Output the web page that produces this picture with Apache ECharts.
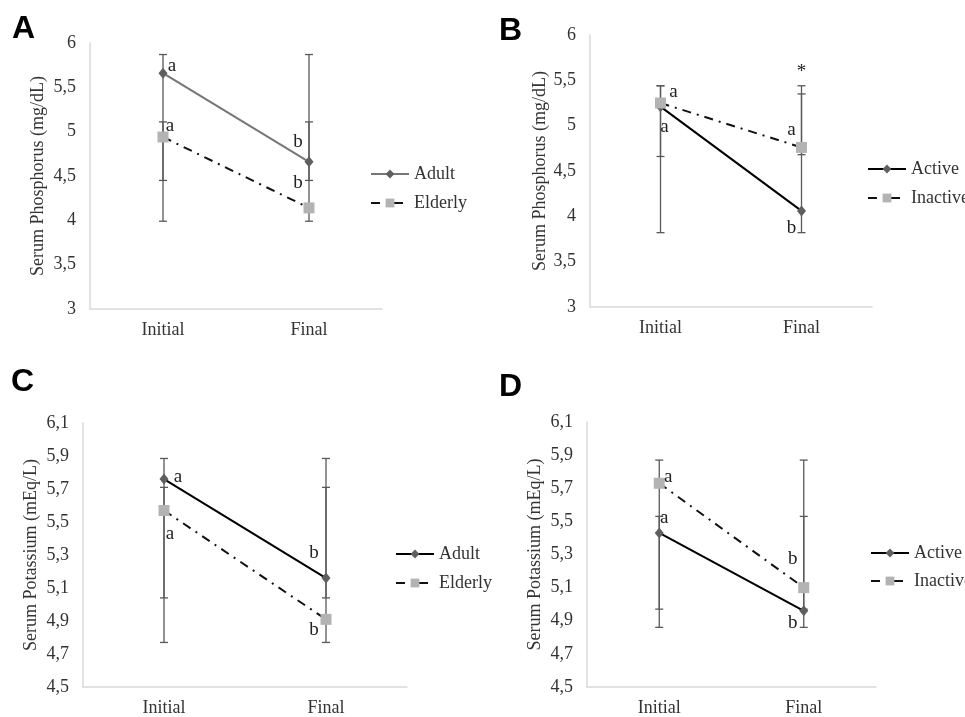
<!DOCTYPE html>
<html>
<head>
<meta charset="utf-8">
<script src="https://cdn.jsdelivr.net/npm/echarts@6/dist/echarts.min.js"></script>
<style>
  html, body { margin: 0; padding: 0; background: #fff; }
  #main { width: 965px; height: 717px; }
</style>
</head>
<body>
<div id="main"></div>
<script>
// categories shared by all four panels
const categories = ['Initial', 'Final'];

// A: serum phosphorus, adult vs elderly
const adultP = [5.66, 4.66];
const elderlyP = [4.94, 4.14];
const adultPLow = [4.45, 4.45];
const adultPHigh = [5.87, 5.87];
const elderlyPLow = [3.99, 3.99];
const elderlyPHigh = [5.11, 5.11];

// B: serum phosphorus, active vs inactive
const activeP = [5.21, 4.06];
const inactiveP = [5.25, 4.76];
const activePLow = [3.82, 3.82];
const activePHigh = [5.44, 5.35];
const inactivePLow = [4.66, 4.68];
const inactivePHigh = [5.44, 5.44];

// C: serum potassium, adult vs elderly
const adultK = [5.76, 5.16];
const elderlyK = [5.57, 4.91];
const adultKLow = [5.04, 5.04];
const adultKHigh = [5.885, 5.885];
const elderlyKLow = [4.77, 4.77];
const elderlyKHigh = [5.71, 5.71];

// D: serum potassium, active vs inactive
const activeK = [5.43, 4.96];
const inactiveK = [5.73, 5.10];
const activeKLow = [4.97, 4.97];
const activeKHigh = [5.87, 5.87];
const inactiveKLow = [4.86, 4.86];
const inactiveKHigh = [5.53, 5.53];

// significance letters
const lettersAdultP = ['a', 'b'];
const lettersElderlyP = ['a', 'b'];
const lettersActiveP = ['a', 'b'];
const lettersInactiveP = ['a', 'a'];
const lettersAdultK = ['a', 'b'];
const lettersElderlyK = ['a', 'b'];
const lettersActiveK = ['a', 'b'];
const lettersInactiveK = ['a', 'b'];
const starsB = ['', '*'];

const serif = 'Liberation Serif';
const txt = '#333';
const axisGray = '#d9d9d9';
const barGray = '#595959';

let myChart = echarts.init(document.getElementById('main'));

function fmtP(v) { return String(Math.round(v * 10) / 10).replace('.', ','); }
function fmtK(v) { return v.toFixed(1).replace('.', ','); }

function xAx(g) {
  return {
    type: 'category', gridIndex: g, data: categories, boundaryGap: true,
    axisLine: { lineStyle: { color: axisGray, width: 1.5 } },
    axisTick: { show: false },
    axisLabel: { color: txt, fontFamily: serif, fontSize: 18, margin: 12 }
  };
}

function yAx(g, name, min, max, interval, fmt, gap) {
  return {
    type: 'value', gridIndex: g, min: min, max: max, interval: interval,
    name: name, nameLocation: 'middle', nameGap: gap,
    nameTextStyle: { color: txt, fontFamily: serif, fontSize: 18 },
    axisLine: { show: true, lineStyle: { color: axisGray, width: 1.5 } },
    axisTick: { show: false },
    splitLine: { show: false },
    axisLabel: { color: txt, fontFamily: serif, fontSize: 18, margin: 14, formatter: fmt }
  };
}

// main mean line with letters next to each point
function lineS(name, g, values, letters, offsets, kind, lineColor) {
  const dark = kind === 'diamond';
  return {
    type: 'line', name: name, xAxisIndex: g, yAxisIndex: g, z: 3,
    symbol: dark ? 'diamond' : 'rect',
    symbolSize: dark ? [9, 11] : 11,
    itemStyle: { color: dark ? '#5f5f5f' : '#b3b3b3' },
    lineStyle: dark
      ? { color: lineColor, width: 2 }
      : { color: '#111', width: 2, type: [9, 6, 2, 6] },
    data: values.map((v, i) => ({
      value: v,
      label: {
        show: true, position: 'inside', formatter: letters[i], offset: offsets[i],
        color: '#222', fontFamily: serif, fontSize: 19
      }
    }))
  };
}

// error bars drawn as custom series
function errS(g, lows, highs, marks) {
  return {
    type: 'custom', xAxisIndex: g, yAxisIndex: g, z: 1, silent: true,
    data: categories.map((c, i) => [i, lows[i], highs[i]]),
    renderItem: function (params, api) {
      const x = api.value(0);
      const lo = api.coord([x, api.value(1)]);
      const hi = api.coord([x, api.value(2)]);
      const st = { stroke: barGray, lineWidth: 1.3 };
      const w = 4;
      const kids = [
        { type: 'line', shape: { x1: lo[0], y1: lo[1], x2: hi[0], y2: hi[1] }, style: st },
        { type: 'line', shape: { x1: lo[0] - w, y1: lo[1], x2: lo[0] + w, y2: lo[1] }, style: st },
        { type: 'line', shape: { x1: hi[0] - w, y1: hi[1], x2: hi[0] + w, y2: hi[1] }, style: st }
      ];
      const m = marks ? marks[params.dataIndex] : '';
      if (m) {
        kids.push({
          type: 'text',
          style: { text: m, x: hi[0], y: hi[1] - 14, align: 'center', verticalAlign: 'middle',
                   fill: '#222', font: '19px ' + serif }
        });
      }
      return { type: 'group', children: kids };
    }
  };
}

function legend(left, top, gap, names) {
  return {
    orient: 'vertical', left: left, top: top, itemGap: gap,
    itemWidth: 38, itemHeight: 11,
    data: names,
    formatter: n => n.split(':')[1],
    textStyle: { color: txt, fontFamily: serif, fontSize: 18 }
  };
}

function letter(t, x, y) {
  return {
    type: 'text', left: x, top: y,
    style: { text: t, fill: '#000', font: 'bold 32px Liberation Sans' }
  };
}

myChart.setOption({
  animation: false,
  backgroundColor: '#fff',
  grid: [
    { left: 90, top: 43, width: 292, height: 266 },
    { left: 590, top: 35, width: 282, height: 272 },
    { left: 83, top: 423, width: 324, height: 265 },
    { left: 587, top: 422, width: 289, height: 265 }
  ],
  xAxis: [xAx(0), xAx(1), xAx(2), xAx(3)],
  yAxis: [
    yAx(0, 'Serum Phosphorus (mg/dL)', 3, 6, 0.5, fmtP, 43),
    yAx(1, 'Serum Phosphorus (mg/dL)', 3, 6, 0.5, fmtP, 38),
    yAx(2, 'Serum Potassium (mEq/L)', 4.5, 6.1, 0.2, fmtK, 43),
    yAx(3, 'Serum Potassium (mEq/L)', 4.5, 6.1, 0.2, fmtK, 43)
  ],
  legend: [
    legend(365, 160, 11, ['A:Adult', 'A:Elderly']),
    legend(862, 155, 11, ['B:Active', 'B:Inactive']),
    legend(390, 540, 11, ['C:Adult', 'C:Elderly']),
    legend(865, 539, 10, ['D:Active', 'D:Inactive'])
  ],
  graphic: [
    letter('A', 12, 13),
    letter('B', 499, 15),
    letter('C', 11, 366),
    letter('D', 499, 371)
  ],
  series: [
    errS(0, adultPLow, adultPHigh),
    errS(0, elderlyPLow, elderlyPHigh),
    lineS('A:Adult', 0, adultP, lettersAdultP, [[9, -7], [-11, -20]], 'diamond', '#767676'),
    lineS('A:Elderly', 0, elderlyP, lettersElderlyP, [[7, -11], [-11, -25]], 'rect'),

    errS(1, activePLow, activePHigh),
    errS(1, inactivePLow, inactivePHigh, starsB),
    lineS('B:Active', 1, activeP, lettersActiveP, [[4, 20], [-10, 17]], 'diamond', '#000'),
    lineS('B:Inactive', 1, inactiveP, lettersInactiveP, [[13, -11], [-10, -17]], 'rect'),

    errS(2, adultKLow, adultKHigh),
    errS(2, elderlyKLow, elderlyKHigh),
    lineS('C:Adult', 2, adultK, lettersAdultK, [[14, -2], [-12, -25]], 'diamond', '#000'),
    lineS('C:Elderly', 2, elderlyK, lettersElderlyK, [[6, 24], [-12, 11]], 'rect'),

    errS(3, activeKLow, activeKHigh),
    errS(3, inactiveKLow, inactiveKHigh),
    lineS('D:Active', 3, activeK, lettersActiveK, [[5, -15], [-11, 12]], 'diamond', '#000'),
    lineS('D:Inactive', 3, inactiveK, lettersInactiveK, [[9, -6], [-11, -29]], 'rect')
  ]
});
</script>
</body>
</html>
